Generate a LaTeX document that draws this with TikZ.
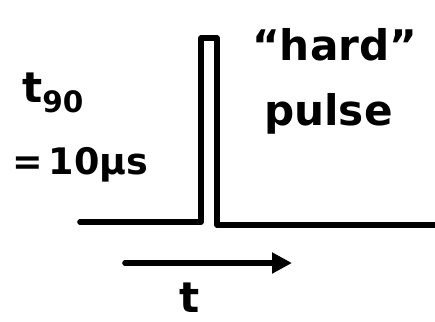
\documentclass[tikz,border=0pt]{standalone}
\usepackage{fontspec}
\setmainfont{DejaVu Sans}
\usetikzlibrary{arrows.meta}
\begin{document}
\begin{tikzpicture}[x=0.25mm,y=-0.25mm,
  ink/.style={line width=1.4mm,line join=round,line cap=round},
  lbl/.style={font=\bfseries\fontsize{30}{34}\selectfont,inner sep=0pt}]
\useasboundingbox (0,0) rectangle (435,321);
\coordinate (L) at (80,222);
\coordinate (P1) at (201,222);
\coordinate (P2) at (201,38);
\coordinate (P3) at (217,38);
\coordinate (P4) at (217,225);
\coordinate (R) at (435,225);
\draw[ink] (L) -- (P1) -- (P2) -- (P3) -- (P4) -- (R);
\coordinate (A1) at (125,263);
\coordinate (A2) at (292,263);
\draw[ink,-{Triangle[length=5mm,width=5mm]}] (A1) -- (A2);
\node[lbl] (t) at (190,298) {t};
\node[lbl,anchor=west] (t90) at (22,93) {t\textsubscript{90}};
\node[lbl,anchor=west,font=\bfseries\fontsize{26}{30}\selectfont] (eq) at (12,165) {=\,10μs};
\node[lbl,anchor=west] (hard) at (252,45) {“hard”};
\node[lbl,anchor=west] (pulse) at (264,114) {pulse};
\end{tikzpicture}
\end{document}
